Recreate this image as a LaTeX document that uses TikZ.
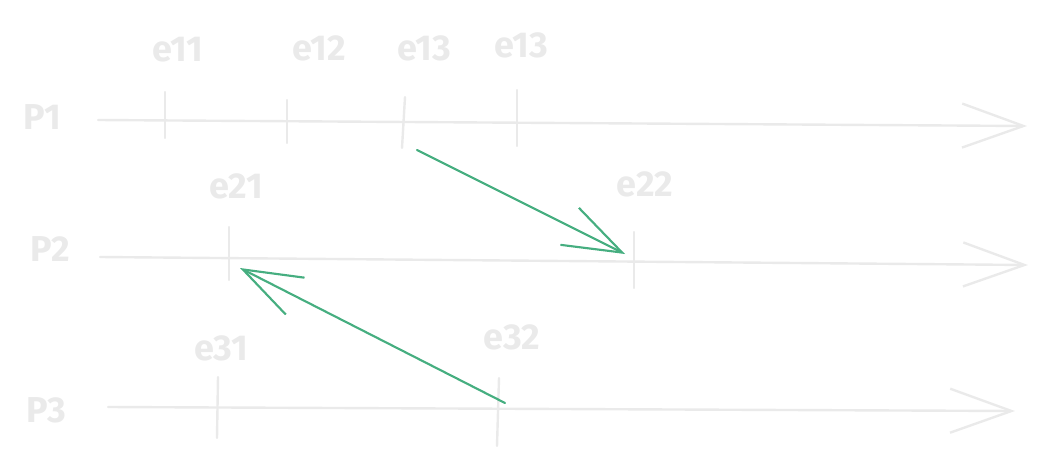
\documentclass[tikz,border=0pt]{standalone}
\usepackage{fontspec}
\setmainfont{Fira Sans}
\usetikzlibrary{arrows.meta}
\definecolor{faint}{RGB}{234,234,234}
\definecolor{msggreen}{RGB}{70,174,128}

\begin{document}
\begin{tikzpicture}[line cap=round,line join=round,x=0.75pt,y=-0.75pt,
  timeline/.style={color=faint,line width=1.8pt,-{Straight Barb[length=46pt,width=33pt]}},
  tick/.style={color=faint,line width=1.8pt},
  evlabel/.style={text=faint,font=\fontsize{27}{29}\selectfont\bfseries},
  proclabel/.style={text=faint,font=\fontsize{27}{29}\selectfont\bfseries},
  message/.style={color=msggreen,line width=1.6pt,-{Straight Barb[length=44pt,width=31pt]}}]
\useasboundingbox (0,0) rectangle (1046,468);
% processes
\node[proclabel] (p1) at (42,117) {P1};
\node[proclabel] (p2) at (50,249) {P2};
\node[proclabel] (p3) at (46,410) {P3};
\coordinate (p1s) at (98,120);
\coordinate (p1e) at (1027,126);
\coordinate (p2s) at (100,257);
\coordinate (p2e) at (1028,265);
\coordinate (p3s) at (108,407);
\coordinate (p3e) at (1015,411);
\draw[timeline] (p1s) -- (p1e);
\draw[timeline] (p2s) -- (p2e);
\draw[timeline] (p3s) -- (p3e);
% events on P1
\coordinate (e11) at (165,121);
\coordinate (e12) at (287,121);
\coordinate (e13) at (405,122);
\coordinate (e14) at (517,122);
\draw[tick] (e11) ++(0,-29) -- ++(0,46);
\draw[tick] (e12) ++(0,-21) -- ++(0,43);
\draw[tick] (e13) ++(0,-25) -- ++(-3,51);
\draw[tick] (e14) ++(0,-32) -- ++(0,56);
\node[evlabel] (l11) at (178,50) {e11};
\node[evlabel] (l12) at (319,48) {e12};
\node[evlabel] (l13) at (424,48) {e13};
\node[evlabel] (l14) at (521,45) {e13};
% events on P2
\coordinate (e21) at (229,258);
\coordinate (e22) at (634,262);
\draw[tick] (e21) ++(0,-31) -- ++(0,53);
\draw[tick] (e22) ++(0,-30) -- ++(0,56);
\node[evlabel] (l21) at (236,186) {e21};
\node[evlabel] (l22) at (645,184) {e22};
% events on P3
\coordinate (e31) at (218,408);
\coordinate (e32) at (499,409);
\draw[tick] (e31) ++(0,-31) -- ++(-1,61);
\draw[tick] (e32) ++(0,-31) -- ++(-2,68);
\node[evlabel] (l31) at (221,348) {e31};
\node[evlabel] (l32) at (512,337) {e32};
% messages
\coordinate (snd1) at (417,150);
\coordinate (rcv1) at (625,254);
\coordinate (snd2) at (505,403);
\coordinate (rcv2) at (240,268);
\draw[message] (snd1) -- (rcv1);
\draw[message] (snd2) -- (rcv2);
\end{tikzpicture}
\end{document}
